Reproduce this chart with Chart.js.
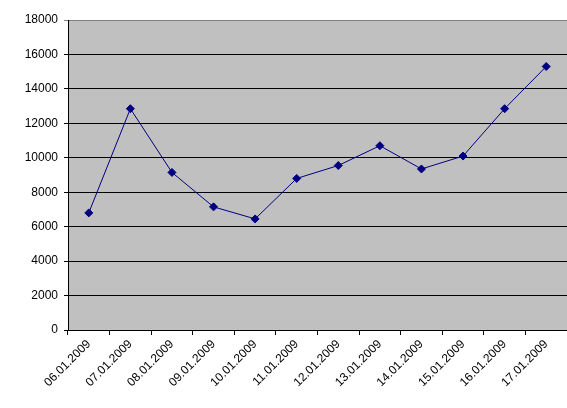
<!DOCTYPE html>
<html>
<head>
<meta charset="utf-8">
<script src="https://cdn.jsdelivr.net/npm/chart.js@4"></script>
<style>
  html, body { margin: 0; padding: 0; background: #fff; overflow: hidden; }
  #wrap { width: 567px; height: 408px; }
</style>
</head>
<body>
<div id="wrap"><canvas id="chart"></canvas></div>
<script>
// Data
const dates = ['06.01.2009', '07.01.2009', '08.01.2009', '09.01.2009', '10.01.2009', '11.01.2009',
  '12.01.2009', '13.01.2009', '14.01.2009', '15.01.2009', '16.01.2009', '17.01.2009'];
const values = [6800, 12850, 9150, 7150, 6450, 8800, 9550, 10700, 9350, 10100, 12850, 15300];
const yMin = 0;
const yMax = 18000;
const yStep = 2000;

// Grey plot area like the old Excel charts
const plotBackground = {
  id: 'plotBackground',
  beforeDraw(chart) {
    const { ctx, chartArea: a } = chart;
    ctx.save();
    ctx.fillStyle = '#C0C0C0';
    ctx.fillRect(a.left, a.top, a.right - a.left, a.bottom - a.top);
    ctx.restore();
  }
};

const font = { family: '"Liberation Sans", Arial, sans-serif', size: 12 };

new Chart(document.getElementById('chart'), {
  type: 'line',
  data: {
    labels: dates,
    datasets: [{
      data: values,
      borderColor: '#000080',
      backgroundColor: '#000080',
      borderWidth: 1,
      pointStyle: 'rectRot',
      pointRadius: 4,
      pointBorderWidth: 1,
      tension: 0
    }]
  },
  options: {
    responsive: true,
    maintainAspectRatio: false,
    animation: false,
    layout: {
      autoPadding: false,
      padding: { top: 20, right: 0, left: 0, bottom: 0 }
    },
    plugins: {
      legend: { display: false },
      tooltip: { enabled: false }
    },
    scales: {
      x: {
        offset: true,
        grid: {
          offset: true,
          drawOnChartArea: false,
          color: '#000',
          tickLength: 5
        },
        border: { color: '#000', width: 1 },
        ticks: {
          color: '#000',
          font: font,
          maxRotation: 45,
          minRotation: 45,
          autoSkip: false,
          padding: 2
        },
        afterFit(scale) {
          scale.height = 78;
          scale.paddingRight = 0;
        }
      },
      y: {
        min: yMin,
        max: yMax,
        grid: {
          color: ctx => ctx.tick && ctx.tick.value === yMax ? '#808080' : '#000',
          tickLength: 4
        },
        border: { color: '#000', width: 1 },
        ticks: {
          stepSize: yStep,
          color: '#000',
          font: font,
          padding: 6,
          callback: v => String(v)
        },
        afterFit(scale) { scale.width = 68; }
      }
    }
  },
  plugins: [plotBackground]
});
</script>
</body>
</html>
